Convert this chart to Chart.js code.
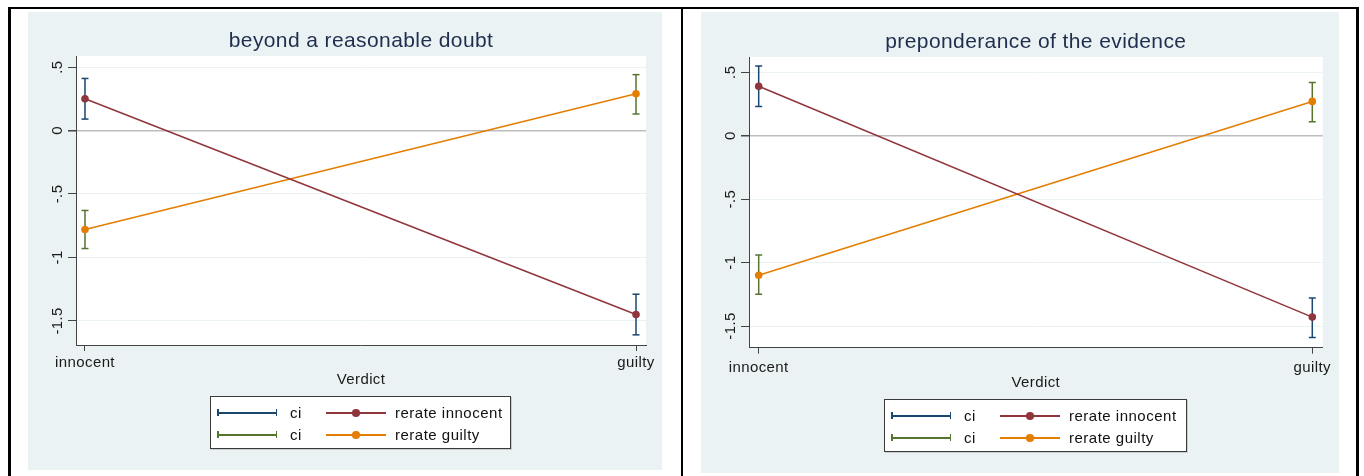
<!DOCTYPE html>
<html>
<head>
<meta charset="utf-8">
<script src="https://cdn.jsdelivr.net/npm/chart.js@4.4.0/dist/chart.umd.min.js"></script>
<style>
  body { margin: 0; width: 1364px; height: 476px; overflow: hidden; position: relative; background: #fff;
         font-family: "Liberation Sans", Arial, sans-serif; }
  #frame { position: absolute; left: 8px; top: 7px; width: 1351px; height: 480px; box-sizing: border-box;
           border: 3px solid #000; border-top-width: 2px; border-bottom: none; }
  #divider { position: absolute; left: 681px; top: 7px; width: 2px; height: 470px; background: #000; }
  .panel { position: absolute; background: #eaf2f3; }
  .panel canvas { position: absolute; left: 0; top: 0; }
  .legend { position: absolute; box-sizing: border-box; background: #fff; border: 1px solid #3a3a3a;
            box-shadow: 1px 1px 0 rgba(0,0,0,0.15); }
  .sym { position: absolute; height: 1.5px; }
  .cap { position: absolute; width: 1.5px; height: 7px; top: -3px; }
  .dot { position: absolute; width: 7.5px; height: 7.5px; border-radius: 50%; top: -3px; }
  .lab { position: absolute; font-size: 15px; letter-spacing: 0.5px; color: #111; line-height: 20px; white-space: nowrap; }
</style>
</head>
<body>
<div id="frame"></div>
<div id="divider"></div>
<div class="panel" style="left:28px;top:12px;width:634px;height:458px"><canvas id="brd" width="634" height="458"></canvas></div>
<div class="panel" style="left:701px;top:12px;width:638px;height:461px"><canvas id="pe" width="638" height="461"></canvas></div>

<script>
const verdicts = ['innocent', 'guilty'];
const yTickValues = [-1.5, -1, -0.5, 0, 0.5];
const yTickLabels = ['-1.5', '-1', '-.5', '0', '.5'];

// beyond a reasonable doubt
const brdInnocent = [0.25, -1.45];
const brdInnocentLo = [0.09, -1.61];
const brdInnocentHi = [0.41, -1.29];
const brdGuilty = [-0.78, 0.29];
const brdGuiltyLo = [-0.93, 0.13];
const brdGuiltyHi = [-0.63, 0.44];

// preponderance of the evidence
const peInnocent = [0.39, -1.43];
const peInnocentLo = [0.23, -1.59];
const peInnocentHi = [0.55, -1.28];
const peGuilty = [-1.10, 0.27];
const peGuiltyLo = [-1.25, 0.11];
const peGuiltyHi = [-0.94, 0.42];

const seriesNames = ['rerate innocent', 'rerate guilty'];
const ciName = 'ci';

const navy = '#1a476f', maroon = '#90353b', green = '#55752f', orange = '#e37e00';

Chart.defaults.font.family = '"Liberation Sans", Arial, sans-serif';

// white plot region + a touch of letter spacing like the stata export
const plotBg = {
  id: 'plotBg',
  beforeLayout(chart) { chart.ctx.letterSpacing = '0.4px'; },
  beforeDraw(chart) {
    const { ctx, chartArea: a } = chart;
    ctx.letterSpacing = '0.4px';
    ctx.save();
    ctx.fillStyle = '#fff';
    ctx.fillRect(a.left, a.top, a.right - a.left, a.bottom - a.top);
    ctx.restore();
  }
};

function points(vals) {
  return vals.map((v, i) => ({ x: i, y: v }));
}

function ciPoints(lo, hi) {
  const pts = [];
  lo.forEach((v, i) => pts.push({ x: i, y: v }, { x: i, y: hi[i] }, { x: i, y: null }));
  return pts;
}

function makeChart(id, cfg) {
  const canvas = document.getElementById(id);
  return new Chart(canvas.getContext('2d'), {
    type: 'scatter',
    data: {
      datasets: [
        { label: seriesNames[0], data: points(cfg.innocent), showLine: true, borderColor: maroon, backgroundColor: maroon,
          borderWidth: 1.5, pointRadius: 3.8, pointBorderWidth: 0 },
        { label: seriesNames[1], data: points(cfg.guilty), showLine: true, borderColor: orange, backgroundColor: orange,
          borderWidth: 1.5, pointRadius: 3.8, pointBorderWidth: 0 },
        { label: ciName, data: ciPoints(cfg.innocentLo, cfg.innocentHi), showLine: true, spanGaps: false,
          borderColor: navy, backgroundColor: navy, borderWidth: 1.5, pointStyle: 'line', pointRadius: 3.5, pointBorderWidth: 1.5 },
        { label: ciName, data: ciPoints(cfg.guiltyLo, cfg.guiltyHi), showLine: true, spanGaps: false,
          borderColor: green, backgroundColor: green, borderWidth: 1.5, pointStyle: 'line', pointRadius: 3.5, pointBorderWidth: 1.5 }
      ]
    },
    options: {
      responsive: false,
      animation: false,
      layout: { padding: { left: 0, top: 0, right: cfg.padRight, bottom: cfg.padBottom } },
      plugins: {
        legend: { display: false },
        tooltip: { enabled: false },
        title: {
          display: true, text: cfg.title, fullSize: false, color: '#1f2d4e',
          font: { size: 21, weight: 'normal' }, padding: { top: cfg.titleTop, bottom: cfg.titleBottom }
        }
      },
      scales: {
        x: {
          type: 'linear', min: cfg.xMin, max: cfg.xMax,
          afterBuildTicks: s => { s.ticks = verdicts.map((_, i) => ({ value: i })); },
          afterFit: s => { s.height = 44; },
          ticks: { callback: v => verdicts[v], color: '#1a1a1a', font: { size: 15 }, padding: cfg.xTickPad,
                   maxRotation: 0, autoSkip: false },
          grid: { drawOnChartArea: false, drawTicks: true, tickLength: 6, tickColor: '#444', tickWidth: 1 },
          border: { color: '#444', width: 1 },
          title: { display: true, text: 'Verdict', color: '#1a1a1a', font: { size: 15 }, padding: 0 }
        },
        y: {
          min: cfg.yMin, max: cfg.yMax,
          afterBuildTicks: s => { s.ticks = yTickValues.map(v => ({ value: v })); },
          afterFit: s => { s.width = 48; },
          ticks: { callback: v => yTickLabels[yTickValues.indexOf(v)], color: '#1a1a1a', font: { size: 15 },
                   minRotation: 90, maxRotation: 90, crossAlign: 'center', padding: -4 },
          grid: {
            color: c => (c.tick && c.tick.value === 0) ? '#bdbdbd' : '#eaf2f3',
            lineWidth: c => (c.tick && c.tick.value === 0) ? 1.5 : 1,
            tickColor: '#444', tickLength: 8
          },
          border: { color: '#444', width: 1 }
        }
      }
    },
    plugins: [plotBg]
  });
}

makeChart('brd', {
  title: 'beyond a reasonable doubt',
  innocent: brdInnocent, innocentLo: brdInnocentLo, innocentHi: brdInnocentHi,
  guilty: brdGuilty, guiltyLo: brdGuiltyLo, guiltyHi: brdGuiltyHi,
  yMin: -1.69, yMax: 0.587, xMin: -0.0163, xMax: 1.0181,
  padRight: 16, padBottom: 81, titleTop: 16.9, titleBottom: 1.9, xTickPad: 3
});

makeChart('pe', {
  title: 'preponderance of the evidence',
  innocent: peInnocent, innocentLo: peInnocentLo, innocentHi: peInnocentHi,
  guilty: peGuilty, guiltyLo: peGuiltyLo, guiltyHi: peGuiltyHi,
  yMin: -1.671, yMax: 0.62, xMin: -0.0175, xMax: 1.0188,
  padRight: 16.3, padBottom: 81.3, titleTop: 17.4, titleBottom: 2.4, xTickPad: 5
});

// legends (html), 2 x 2 grid: ci | rerate
function makeLegend(left, top, width) {
  const box = document.createElement('div');
  box.className = 'legend';
  box.style.cssText = `left:${left}px;top:${top}px;width:${width}px;height:53px`;
  const rows = [
    { ci: navy, line: maroon, text: seriesNames[0], y: 16 },
    { ci: green, line: orange, text: seriesNames[1], y: 38 }
  ];
  rows.forEach(r => {
    box.insertAdjacentHTML('beforeend',
      `<div class="sym" style="left:6px;top:${r.y - 1}px;width:60px;background:${r.ci}">
         <span class="cap" style="left:0;background:${r.ci}"></span>
         <span class="cap" style="right:0;background:${r.ci}"></span></div>
       <div class="lab" style="left:79px;top:${r.y - 10}px">${ciName}</div>
       <div class="sym" style="left:115px;top:${r.y - 1}px;width:60px;background:${r.line}">
         <span class="dot" style="left:26px;background:${r.line}"></span></div>
       <div class="lab" style="left:184px;top:${r.y - 10}px">${r.text}</div>`);
  });
  document.body.appendChild(box);
}
makeLegend(210, 396, 301);
makeLegend(884, 399, 303);
</script>
</body>
</html>
